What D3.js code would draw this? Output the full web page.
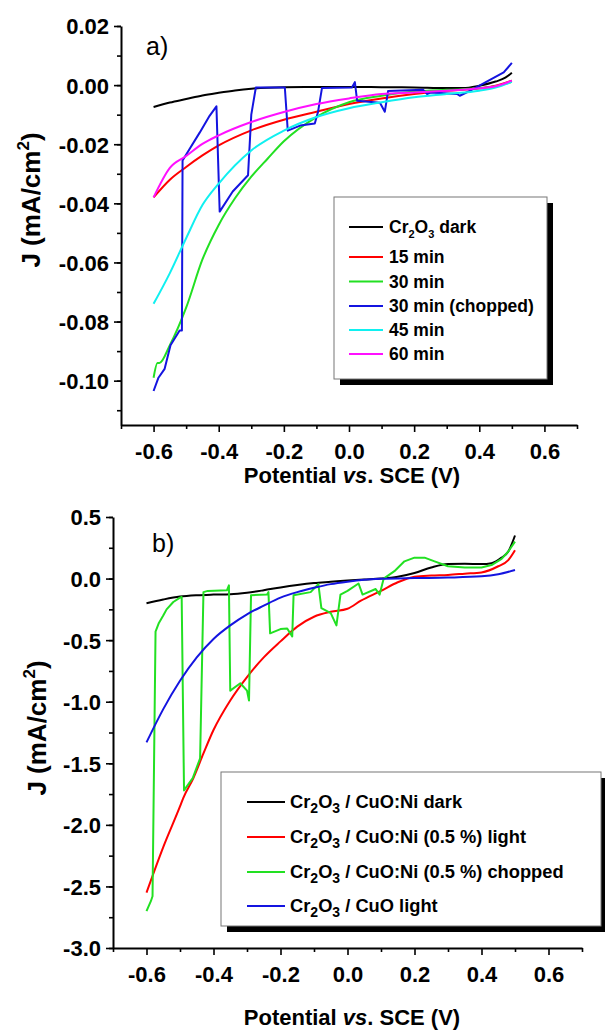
<!DOCTYPE html>
<html><head><meta charset="utf-8">
<script src="https://cdn.jsdelivr.net/npm/d3@7"></script>
<style>
body{margin:0;background:#fff;}
text{font-family:"Liberation Sans",Arial,sans-serif;}
</style></head>
<body><svg id="c" width="605" height="1030"></svg>
<script>
// ---------- Panel a data (Potential V, J mA/cm2) ----------
const darkA_x = [-0.6,-0.55,-0.5,-0.45,-0.4,-0.35,-0.3,-0.2,-0.1,0,0.1,0.2,0.3,0.35,0.4,0.45,0.48,0.5];
const darkA_y = [-0.0074,-0.0059,-0.0047,-0.0035,-0.0026,-0.0018,-0.0012,-0.0007,-0.0006,-0.0006,-0.0007,-0.0008,-0.0010,-0.0010,-0.0002,0.0012,0.0025,0.0042];
const red15_x = [-0.6,-0.55,-0.5,-0.45,-0.4,-0.3,-0.2,-0.1,0,0.1,0.2,0.3,0.4,0.45,0.5];
const red15_y = [-0.038,-0.032,-0.0277,-0.0238,-0.0204,-0.0153,-0.0117,-0.009,-0.0064,-0.0045,-0.003,-0.0019,-0.0011,-0.0002,0.0015];
const green30_x = [-0.6,-0.588,-0.582,-0.55,-0.5,-0.45,-0.4,-0.35,-0.3,-0.25,-0.2,-0.1,0,0.1,0.2,0.3,0.4,0.45,0.5];
const green30_y = [-0.099,-0.094,-0.094,-0.0880,-0.0753,-0.0590,-0.0473,-0.0383,-0.031,-0.0249,-0.0190,-0.0108,-0.0058,-0.0036,-0.0022,-0.0016,-0.0011,-0.0004,0.0011];
const chop30_x = [-0.6,-0.585,-0.566,-0.548,-0.52,-0.513,-0.511,-0.489,-0.458,-0.428,-0.407,-0.397,-0.357,-0.31,-0.30,-0.286,-0.197,-0.188,-0.15,-0.105,-0.095,-0.083,0.009,0.018,0.025,0.095,0.11,0.12,0.228,0.24,0.25,0.332,0.34,0.37,0.42,0.475,0.5];
const chop30_y = [-0.1035,-0.099,-0.096,-0.088,-0.083,-0.083,-0.0255,-0.0215,-0.016,-0.0104,-0.0072,-0.0428,-0.036,-0.0305,-0.010,-0.0008,-0.0008,-0.0154,-0.0137,-0.013,-0.009,-0.001,-0.0008,0.001,-0.0053,-0.006,-0.009,-0.002,-0.0016,-0.003,-0.0025,-0.003,-0.0036,-0.002,0.001,0.0043,0.0075];
const cyan45_x = [-0.6,-0.55,-0.5,-0.45,-0.4,-0.3,-0.2,-0.1,0,0.1,0.2,0.3,0.4,0.45,0.5];
const cyan45_y = [-0.074,-0.0636,-0.0518,-0.0406,-0.0333,-0.0221,-0.0154,-0.0108,-0.0078,-0.0058,-0.0041,-0.003,-0.0019,-0.0008,0.0011];
const mag60_x = [-0.6,-0.55,-0.5,-0.45,-0.4,-0.3,-0.2,-0.1,0,0.1,0.2,0.3,0.4,0.45,0.5];
const mag60_y = [-0.038,-0.028,-0.024,-0.0199,-0.017,-0.0125,-0.0091,-0.0064,-0.0045,-0.003,-0.0025,-0.0019,-0.0011,-0.0004,0.0015];
const seriesA_names = ["Cr2O3 dark","15 min","30 min","30 min (chopped)","45 min","60 min"];
const seriesA_colors = ["#000000","#ff0000","#22e022","#1414e0","#10f0f0","#ff10ff"];
const ticksA_y = [-0.10,-0.08,-0.06,-0.04,-0.02,0.00,0.02];
const ticksX = [-0.6,-0.4,-0.2,0.0,0.2,0.4,0.6];

// ---------- Panel b data ----------
const darkB_x = [-0.6,-0.55,-0.5,-0.45,-0.4,-0.35,-0.3,-0.25,-0.2,-0.15,-0.1,-0.05,0,0.05,0.1,0.15,0.2,0.25,0.3,0.35,0.4,0.43,0.46,0.48,0.5];
const darkB_y = [-0.2,-0.17,-0.146,-0.135,-0.13,-0.127,-0.115,-0.095,-0.072,-0.052,-0.036,-0.026,-0.016,-0.008,0.0,0.015,0.045,0.09,0.118,0.12,0.118,0.125,0.17,0.22,0.35];
const redB_x = [-0.6,-0.55,-0.5,-0.49,-0.46,-0.43,-0.4,-0.35,-0.3,-0.25,-0.2,-0.15,-0.1,-0.05,0,0.04,0.1,0.15,0.2,0.25,0.3,0.35,0.4,0.45,0.48,0.5];
const redB_y = [-2.55,-2.18,-1.85,-1.78,-1.62,-1.42,-1.23,-0.99,-0.8,-0.64,-0.51,-0.39,-0.31,-0.27,-0.245,-0.18,-0.1,-0.03,0.015,0.025,0.03,0.04,0.05,0.1,0.15,0.23];
const chopB_x = [-0.6,-0.587,-0.582,-0.573,-0.563,-0.55,-0.54,-0.52,-0.5,-0.495,-0.488,-0.462,-0.44,-0.43,-0.417,-0.36,-0.354,-0.35,-0.32,-0.30,-0.294,-0.288,-0.24,-0.236,-0.231,-0.2,-0.18,-0.165,-0.161,-0.11,-0.087,-0.078,-0.05,-0.033,-0.021,0,0.033,0.045,0.084,0.096,0.108,0.14,0.17,0.2,0.23,0.26,0.3,0.35,0.4,0.43,0.46,0.48,0.5];
const chopB_y = [-2.70,-2.62,-2.58,-0.43,-0.36,-0.30,-0.25,-0.19,-0.155,-0.15,-1.72,-1.62,-1.46,-0.11,-0.10,-0.095,-0.055,-0.91,-0.85,-0.91,-0.99,-0.135,-0.13,-0.11,-0.445,-0.41,-0.405,-0.47,-0.135,-0.11,-0.045,-0.24,-0.28,-0.38,-0.13,-0.10,-0.04,-0.13,-0.085,-0.13,0.0,0.06,0.14,0.17,0.17,0.14,0.10,0.09,0.09,0.11,0.16,0.22,0.30];
const blueB_x = [-0.6,-0.55,-0.5,-0.45,-0.4,-0.35,-0.3,-0.25,-0.2,-0.15,-0.1,-0.05,0,0.05,0.1,0.2,0.3,0.4,0.45,0.5];
const blueB_y = [-1.33,-1.06,-0.83,-0.64,-0.49,-0.38,-0.29,-0.22,-0.155,-0.11,-0.075,-0.045,-0.025,-0.01,-0.002,0.004,0.008,0.018,0.035,0.07];
const seriesB_colors = ["#000000","#ff0000","#22e022","#1414e0"];
const ticksB_y = [-3.0,-2.5,-2.0,-1.5,-1.0,-0.5,0.0,0.5];

const svg = d3.select("#c");
const hy = f => d => d3.format(f)(d).replace("\u2212","-");

function panel(opt){
  const g = svg.append("g");
  const x = d3.scaleLinear().domain([-0.7,0.7]).range(opt.xr);
  const y = d3.scaleLinear().domain(opt.yd).range(opt.yr);
  const yAxisX = opt.xr[0], xAxisY = opt.yr[0];
  g.append("g").attr("transform",`translate(${yAxisX},0)`)
    .call(d3.axisLeft(y).tickValues(opt.yMinor).tickSize(4).tickFormat(""))
    .call(s=>s.select(".domain").remove());
  g.append("g").attr("transform",`translate(0,${xAxisY})`)
    .call(d3.axisBottom(x).tickValues(d3.range(-7,8,2).map(v=>v/10)).tickSize(4).tickFormat(""))
    .call(s=>s.select(".domain").remove());
  const ya = g.append("g").attr("transform",`translate(${yAxisX},0)`)
    .call(d3.axisLeft(y).tickValues(opt.yTicks).tickSize(7).tickPadding(5).tickSizeOuter(0).tickFormat(opt.yFmt));
  const xa = g.append("g").attr("transform",`translate(0,${xAxisY})`)
    .call(d3.axisBottom(x).tickValues(ticksX).tickSize(7).tickPadding(11).tickSizeOuter(0).tickFormat(hy(".1f")));
  [ya,xa].forEach(a=>{
    a.selectAll("text").attr("font-size",22).attr("font-weight","bold").attr("font-family","Liberation Sans, Arial").attr("fill","#000");
  });
  ya.selectAll("text").attr("dy","0.36em");
  g.selectAll(".domain").attr("stroke","#000").attr("stroke-width",2);
  g.selectAll(".tick line").attr("stroke","#000").attr("stroke-width",1.6);
  const line = d3.line().x(d=>x(d[0])).y(d=>y(d[1]));
  opt.series.forEach(s=>{
    const pts = s.x.map((v,k)=>[v,s.y[k]]);
    g.append("path").datum(pts).attr("fill","none").attr("stroke",s.color)
      .attr("stroke-width",2).attr("stroke-linejoin","round")
      .attr("d",line.curve(s.smooth?d3.curveMonotoneX:d3.curveLinear));
  });
  return {g,x,y};
}

const A = panel({
  xr:[121,577], yd:[-0.115,0.02], yr:[425,26],
  yTicks:ticksA_y, yMinor:d3.range(-11,3).map(v=>v/100),
  yFmt:hy(".2f"),
  series:[
    {x:darkA_x,y:darkA_y,color:seriesA_colors[0],smooth:true},
    {x:red15_x,y:red15_y,color:seriesA_colors[1],smooth:true},
    {x:green30_x,y:green30_y,color:seriesA_colors[2],smooth:true},
    {x:chop30_x,y:chop30_y,color:seriesA_colors[3],smooth:false},
    {x:cyan45_x,y:cyan45_y,color:seriesA_colors[4],smooth:true},
    {x:mag60_x,y:mag60_y,color:seriesA_colors[5],smooth:true}
  ]
});
const B = panel({
  xr:[113,582], yd:[-3,0.5], yr:[948,517],
  yTicks:ticksB_y, yMinor:d3.range(-12,3).map(v=>v/4),
  yFmt:hy(".1f"),
  series:[
    {x:darkB_x,y:darkB_y,color:seriesB_colors[0],smooth:true},
    {x:redB_x,y:redB_y,color:seriesB_colors[1],smooth:true},
    {x:chopB_x,y:chopB_y,color:seriesB_colors[2],smooth:false},
    {x:blueB_x,y:blueB_y,color:seriesB_colors[3],smooth:true}
  ]
});

svg.append("text").attr("x",146).attr("y",55).attr("font-size",25).text("a)");
svg.append("text").attr("x",152).attr("y",552).attr("font-size",25).text("b)");

function xTitle(cx,by){
  const t = svg.append("text").attr("x",cx).attr("y",by).attr("text-anchor","middle")
    .attr("font-size",22).attr("font-weight","bold");
  t.append("tspan").text("Potential ");
  t.append("tspan").attr("font-style","italic").text("vs");
  t.append("tspan").text(". SCE (V)");
}
xTitle(352,483); xTitle(352,1025);
function yTitle(bx,cy){
  const t = svg.append("text").attr("transform",`translate(${bx},${cy}) rotate(-90)`)
    .attr("text-anchor","middle").attr("font-size",26).attr("font-weight","bold");
  t.append("tspan").text("J (mA/cm");
  t.append("tspan").attr("font-size",17).attr("dy",-11).text("2");
  t.append("tspan").attr("dy",11).text(")");
}
yTitle(40,200); yTitle(46,728);

// legend a
svg.append("rect").attr("x",340).attr("y",203).attr("width",213).attr("height",182).attr("fill","#000");
svg.append("rect").attr("x",334).attr("y",197).attr("width",213).attr("height",182).attr("fill","#fff").attr("stroke","#777").attr("stroke-width",1);
const legA_y = [227,257,281.5,306,330,354];
seriesA_names.forEach((n,i)=>{
  svg.append("line").attr("x1",349).attr("x2",383).attr("y1",legA_y[i]).attr("y2",legA_y[i])
    .attr("stroke",seriesA_colors[i]).attr("stroke-width",2);
  const t = svg.append("text").attr("x",389).attr("y",legA_y[i]+6).attr("font-size",17.5).attr("font-weight","bold");
  if(i===0){
    t.append("tspan").text("Cr");
    t.append("tspan").attr("font-size",11).attr("dy",5).text("2");
    t.append("tspan").attr("dy",-5).text("O");
    t.append("tspan").attr("font-size",11).attr("dy",5).text("3");
    t.append("tspan").attr("dy",-5).text(" dark");
  } else t.text(n);
});
// legend b
svg.append("rect").attr("x",227).attr("y",778).attr("width",380).attr("height",154).attr("fill","#000");
svg.append("rect").attr("x",221).attr("y",772).attr("width",380).attr("height",154).attr("fill","#fff").attr("stroke","#777").attr("stroke-width",1);
const seriesB_suffix = [" / CuO:Ni dark"," / CuO:Ni (0.5 %) light"," / CuO:Ni (0.5 %) chopped"," / CuO light"];
const legB_y = [802,837,872,906];
seriesB_suffix.forEach((s,i)=>{
  svg.append("line").attr("x1",247).attr("x2",285).attr("y1",legB_y[i]).attr("y2",legB_y[i])
    .attr("stroke",seriesB_colors[i]).attr("stroke-width",2);
  const t = svg.append("text").attr("x",290).attr("y",legB_y[i]+6).attr("font-size",18.3).attr("font-weight","bold");
  t.append("tspan").text("Cr");
  t.append("tspan").attr("font-size",14).attr("dy",5).text("2");
  t.append("tspan").attr("dy",-5).text("O");
  t.append("tspan").attr("font-size",14).attr("dy",5).text("3");
  t.append("tspan").attr("dy",-5).text(s);
});
</script></body></html>
